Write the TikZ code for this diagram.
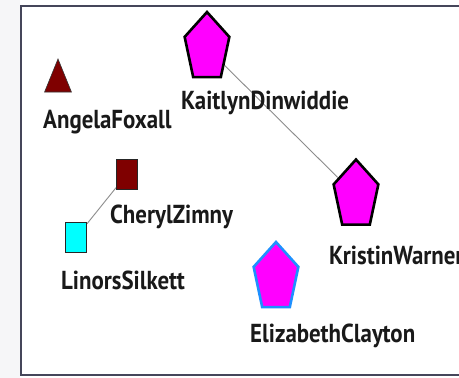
\documentclass[tikz,border=0pt]{standalone}
\usepackage{fontspec}
\setmainfont{PT Sans}[FakeStretch=0.88]
\usetikzlibrary{shapes.geometric,backgrounds}

\definecolor{darkred}{HTML}{7F0000}
\definecolor{frameblue}{HTML}{45465A}
\definecolor{tiegray}{HTML}{8C8C8C}
\definecolor{outerbg}{HTML}{F6F6F8}
\definecolor{ringblue}{HTML}{1E90FF}
\definecolor{pinkfill}{RGB}{255,0,255}
\definecolor{aqua}{RGB}{0,255,255}

\tikzset{
  woman/.style={regular polygon, regular polygon sides=5, fill=pinkfill,
    draw=black, line width=2.6pt, minimum size=47pt, inner sep=0pt,
    yscale=1.53, transform shape},
  guest/.style={woman, draw=ringblue},
  member/.style={regular polygon, regular polygon sides=3, fill=darkred,
    draw=black!80, line width=0.6pt, minimum size=31pt, inner sep=0pt,
    yscale=1.42, transform shape},
  box/.style={rectangle, draw=black!85, line width=0.9pt, minimum width=21pt,
    minimum height=30pt, inner sep=0pt},
  tag/.style={anchor=west, inner sep=0pt, text=black!90,
    font=\fontsize{26}{26}\selectfont\bfseries},
  tie/.style={draw=tiegray, line width=0.9pt}
}

\begin{document}
\begin{tikzpicture}[x=1pt, y=-1pt]
\useasboundingbox (0,0) rectangle (459,378);
\begin{scope}[on background layer]
\fill[white] (0,0) rectangle (459,378);
\fill[outerbg] (0,0) rectangle (20,378);
% frame runs off the right side
\draw[frameblue, line width=2.4pt] (459,6) -- (21,6) -- (21,375) -- (459,375);
\end{scope}

% people
\node[member] (angela) at (58,81) {};
\node[woman] (kaitlyn) at (207,48) {};
\node[box, fill=darkred] (cheryl) at (127,174) {};
\node[box, fill=aqua] (linors) at (76,237.5) {};
\node[woman] (kristin) at (356,195.5) {};
\node[guest] (elizabeth) at (276,278) {};

% names
\node[tag] (angela-tag) at (43,122) {AngelaFoxall};
\node[tag] (kaitlyn-tag) at (181,103) {KaitlynDinwiddie};
\node[tag] (cheryl-tag) at (110,217) {CherylZimny};
\node[tag] (linors-tag) at (61,280) {LinorsSilkett};
\node[tag] (kristin-tag) at (329,255) {KristinWarner};
\node[tag] (elizabeth-tag) at (250,336) {ElizabethClayton};

% ties
\begin{scope}[on background layer]
\draw[tie] (kaitlyn) -- (kristin);
\draw[tie] (cheryl) -- (linors);
\end{scope}
\end{tikzpicture}
\end{document}
